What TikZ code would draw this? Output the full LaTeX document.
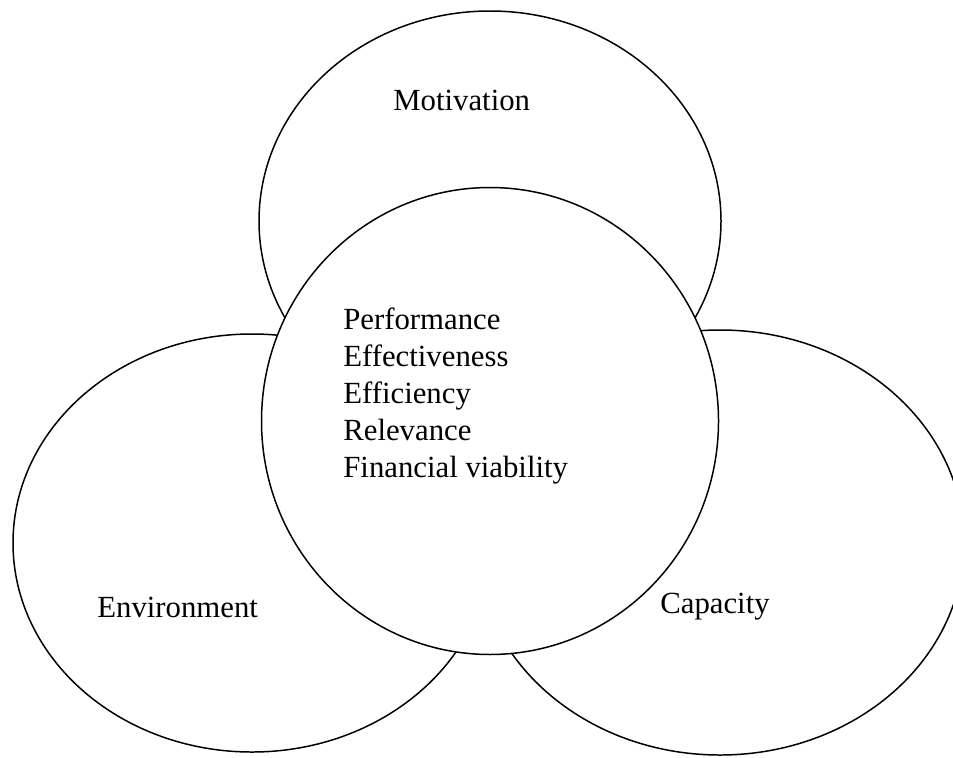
\documentclass[tikz,border=0pt]{standalone}
\usepackage{fontspec}
\setmainfont{Liberation Serif}
\usepackage{tikz}
\usetikzlibrary{shapes.geometric}

\begin{document}
\begin{tikzpicture}[
  ring/.style={
    ellipse, draw=black, fill=white, line width=0.85pt, inner sep=0pt
  },
  lab/.style={
    font=\fontsize{17.5}{21}\selectfont, inner sep=0pt, anchor=base west
  }
]
  \useasboundingbox (0,0) rectangle (19.06,15.14);
  \clip (0,0) rectangle (19.06,15.14);

  % Outer rings: left, right, top
  \node[ring, minimum width=9.56cm, minimum height=8.36cm] (envring) at (5.04,4.28)  {};
  \node[ring, minimum width=9.76cm, minimum height=8.50cm] (capring) at (14.40,4.29) {};
  \node[ring, minimum width=9.24cm, minimum height=8.40cm] (motring) at (9.80,10.72) {};

  % Central ring sits on top of the others
  \node[ring, minimum width=9.14cm, minimum height=9.34cm] (core) at (9.80,6.72) {};

  % Labels
  \node[lab] (motivation)  at (7.86,12.94) {Motivation};
  \node[lab] (environment) at (1.94,2.80)  {Environment};
  \node[lab] (capacity)    at (13.20,2.88) {Capacity};
  % base of a multi-line node is its last line
  \node[lab, align=left] (criteria) at (6.86,5.60)
    {Performance\\Effectiveness\\Efficiency\\Relevance\\Financial viability};
\end{tikzpicture}
\end{document}
